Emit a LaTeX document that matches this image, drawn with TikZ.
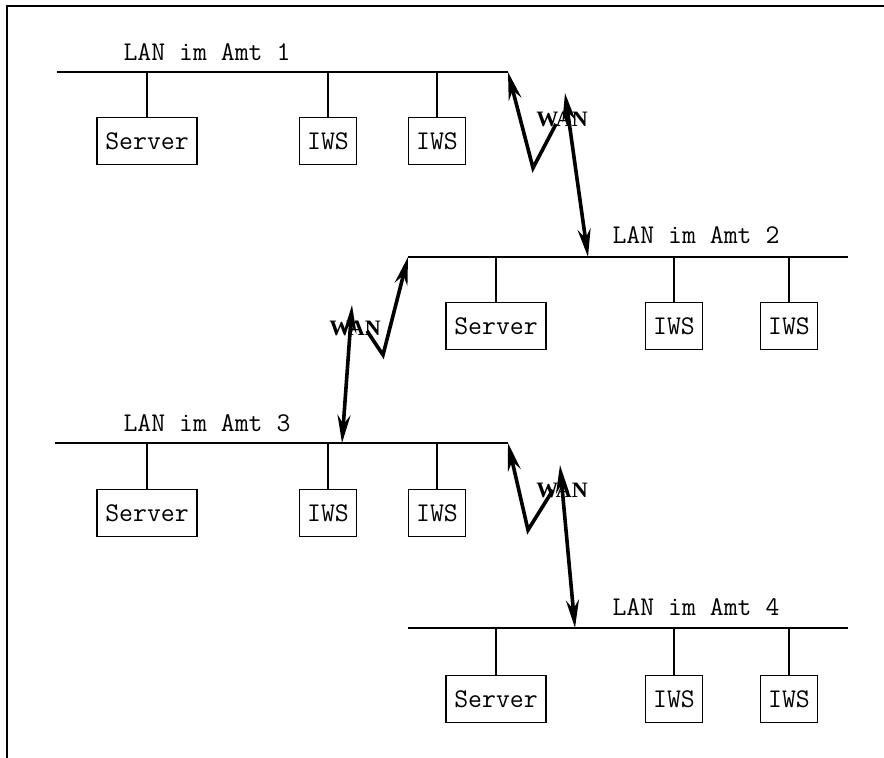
\documentclass[tikz,border=0pt]{standalone}
\usepackage{fontspec}
\newfontfamily\wanfont{Liberation Serif}
\usetikzlibrary{arrows.meta}

\begin{document}
\begin{tikzpicture}[x=0.5pt, y=-0.5pt,
  bus/.style={line width=1.1pt},
  stem/.style={line width=0.8pt},
  station/.style={draw, line width=0.8pt, minimum height=23.5pt, inner sep=0pt,
                  font=\ttfamily\fontsize{13.5}{16}\selectfont},
  srv/.style={station, minimum width=50pt},
  iws/.style={station, minimum width=28.5pt},
  lanlabel/.style={font=\ttfamily\fontsize{13.5}{16}\selectfont, inner sep=0pt},
  wan/.style={{Stealth[length=14pt,width=6.5pt]}-{Stealth[length=14pt,width=6.5pt]},
              line width=1.8pt},
  wanknee/.style={{Stealth[length=14pt,width=6.5pt]}-, line width=1.8pt},
  wanlabel/.style={font=\wanfont\bfseries\fontsize{11}{12}\selectfont, inner sep=0.5pt},
]
\useasboundingbox (0,0) rectangle (884,758);
\draw[line width=1pt] (7,758) -- (7,6) -- (884,6);

% LAN im Amt 1
\coordinate (b1w) at (57,72);
\coordinate (b1e) at (508,72);
\node[lanlabel] (lan1) at (207,52) {LAN im Amt 1};
\node[srv] (srv1) at (147,141) {Server};
\node[iws] (iws1a) at (328,141) {IWS};
\node[iws] (iws1b) at (437,141) {IWS};
\draw[bus] (b1w) -- (b1e);
\draw[stem] (srv1) -- (srv1 |- b1w);
\draw[stem] (iws1a) -- (iws1a |- b1w);
\draw[stem] (iws1b) -- (iws1b |- b1w);

% LAN im Amt 2
\coordinate (b2w) at (408,257);
\coordinate (b2e) at (848,257);
\coordinate (t2) at (588,257);
\node[lanlabel] (lan2) at (696,235) {LAN im Amt 2};
\node[srv] (srv2) at (496,326) {Server};
\node[iws] (iws2a) at (674,326) {IWS};
\node[iws] (iws2b) at (789,326) {IWS};
\draw[bus] (b2w) -- (b2e);
\draw[stem] (srv2) -- (srv2 |- b2w);
\draw[stem] (iws2a) -- (iws2a |- b2w);
\draw[stem] (iws2b) -- (iws2b |- b2w);

% LAN im Amt 3
\coordinate (b3w) at (55,443);
\coordinate (b3e) at (508,443);
\coordinate (t3) at (342,443);
\node[lanlabel] (lan3) at (207,423) {LAN im Amt 3};
\node[srv] (srv3) at (147,513) {Server};
\node[iws] (iws3a) at (328,513) {IWS};
\node[iws] (iws3b) at (437,513) {IWS};
\draw[bus] (b3w) -- (b3e);
\draw[stem] (srv3) -- (srv3 |- b3w);
\draw[stem] (iws3a) -- (iws3a |- b3w);
\draw[stem] (iws3b) -- (iws3b |- b3w);

% LAN im Amt 4
\coordinate (b4w) at (408,628);
\coordinate (b4e) at (848,628);
\coordinate (t4) at (575,628);
\node[lanlabel] (lan4) at (696,607) {LAN im Amt 4};
\node[srv] (srv4) at (496,699) {Server};
\node[iws] (iws4a) at (674,699) {IWS};
\node[iws] (iws4b) at (789,699) {IWS};
\draw[bus] (b4w) -- (b4e);
\draw[stem] (srv4) -- (srv4 |- b4w);
\draw[stem] (iws4a) -- (iws4a |- b4w);
\draw[stem] (iws4b) -- (iws4b |- b4w);

% WAN-Blitze
\coordinate (v1) at (533,168);
\coordinate (k1) at (556,124);
\coordinate (p1) at (565,93);
\draw[wanknee, line join=miter] (b1e) -- (v1) -- (k1);
\draw[wan] (p1) -- (t2);
\coordinate (v2) at (383,355);
\coordinate (k2) at (367,331);
\coordinate (p2) at (352,305);
\draw[wanknee, line join=miter] (b2w) -- (v2) -- (k2);
\draw[wan] (p2) -- (t3);
\coordinate (v3) at (528,530);
\coordinate (k3) at (553,490);
\coordinate (p3) at (560,465);
\draw[wanknee, line join=miter] (b3e) -- (v3) -- (k3);
\draw[wan] (p3) -- (t4);
\node[wanlabel] (wan1) at (562,119) {WAN};
\node[wanlabel] (wan2) at (355,328) {WAN};
\node[wanlabel] (wan3) at (562,490) {WAN};
\end{tikzpicture}
\end{document}
